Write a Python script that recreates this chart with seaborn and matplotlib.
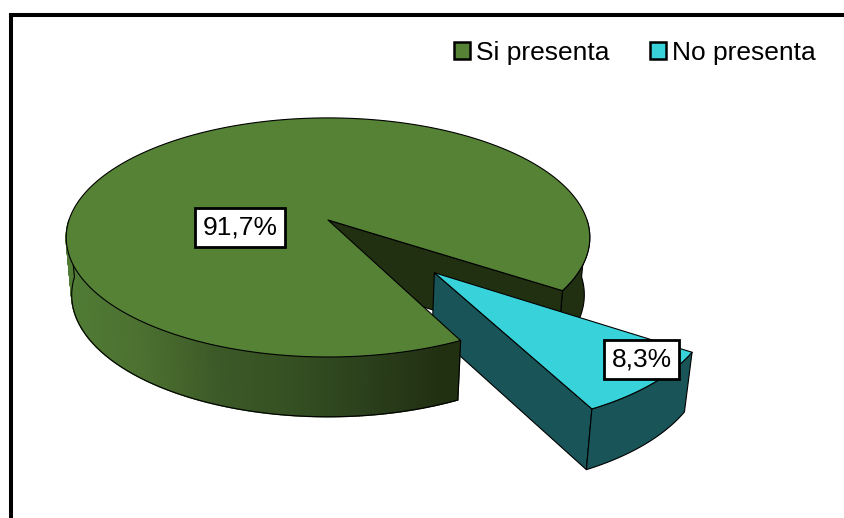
import numpy as np
import matplotlib
matplotlib.use("Agg")
import matplotlib.pyplot as plt
from matplotlib.patches import Patch
import seaborn as sns

categories = ["Si presenta", "No presenta"]
values = [91.7, 8.3]
start_deg = -33.7          # where the first slice starts, going round counter-clockwise
explode = [0.0, 0.572]
slice_radius = [1.0, 0.987]

GREEN, CYAN = "#558235", "#38D3DA"
DARK_GREEN, DARK_CYAN = "#223012", "#185458"
gradient = sns.blend_palette(["#507C35", "#4C7030", "#3C5A28", "#355022", "#2B401C", "#223012"], 200)

sns.set_theme(style="white")
plt.rcParams["font.family"] = ["Liberation Sans", "DejaVu Sans"]

W, H = 845, 518
fig = plt.figure(figsize=(W / 100, H / 100), dpi=100)
left, top = 11, 14.5
ax = fig.add_axes([left / W, 0, (W - left) / W, (H - top) / H])
ax.set_xlim(left, W)
ax.set_ylim(H, top)
ax.set_xticks([]); ax.set_yticks([])
sns.despine(ax=ax, top=False, left=False, right=True, bottom=True)
for s in ("left", "top"):
    ax.spines[s].set_linewidth(2.9)
    ax.spines[s].set_color("black")

# perspective projection of a unit disc
CX, CY, BX, AY, K, DEPTH, SHRINK = 328, 220, 259, 117, 0.146, 57, 0.021


def proj(u, v, z=0.0):
    u, v = np.asarray(u, float), np.asarray(v, float)
    w = 1 + K * v
    return CX + BX * u / w * (1 - SHRINK * z), CY - AY * v / w + DEPTH * z / w ** 0.3


def arc(a0, a1, off=(0, 0), r=1.0, n=240):
    t = np.radians(np.linspace(a0, a1, n))
    return r * np.cos(t) + off[0], r * np.sin(t) + off[1]


EDGE = dict(edgecolor="black", linewidth=0.8, joinstyle="round")


def poly(xs, ys, fc, z, **kw):
    opts = dict(EDGE); opts.update(kw)
    ax.fill(xs, ys, facecolor=fc, zorder=z, **opts)


def outer_wall(a0, a1, fc, z, off=(0, 0), r=1.0):
    u, v = arc(a0, a1, off, r)
    xt, yt = proj(u, v, 0)
    xb, yb = proj(u, v, 1)
    poly(np.r_[xt, xb[::-1]], np.r_[yt, yb[::-1]], fc, z)


def side_wall(a, fc, z, off=(0, 0), r=1.0):
    t = np.radians(a)
    u = np.array([off[0], off[0] + r * np.cos(t)])
    v = np.array([off[1], off[1] + r * np.sin(t)])
    xt, yt = proj(u, v, 0)
    xb, yb = proj(u, v, 1)
    poly(np.r_[xt, xb[::-1]], np.r_[yt, yb[::-1]], fc, z)


def top_face(a0, a1, fc, z, off=(0, 0), r=1.0):
    u, v = arc(a0, a1, off, r)
    x, y = proj(np.r_[off[0], u], np.r_[off[1], v], 0)
    poly(x, y, fc, z)


a_main_0 = start_deg
a_main_1 = start_deg + 360 * values[0] / sum(values)
a_sm_0 = a_main_1 - 360
a_sm_1 = a_sm_0 + 360 * values[1] / sum(values)
mid = np.radians((a_sm_0 + a_sm_1) / 2 + 1.0)
off = (explode[1] * np.cos(mid), explode[1] * np.sin(mid))
r_sm = slice_radius[1]

# main slice: walls that lie behind the small slice
outer_wall(a_main_0, 0, DARK_GREEN, 1)
side_wall(a_main_0, DARK_GREEN, 2)

# small exploded slice
side_wall(a_sm_0, DARK_CYAN, 3, off, r_sm)
outer_wall(a_sm_0, a_sm_1, DARK_CYAN, 3, off, r_sm)
top_face(a_sm_0, a_sm_1, CYAN, 4, off, r_sm)

# main slice: front wall with a horizontal gradient
angles = np.linspace(-180, a_sm_0, 201)
for i in range(200):
    u, v = arc(angles[i], angles[i + 1], n=4)
    xt, yt = proj(u, v, 0)
    xb, yb = proj(u, v, 1)
    frac = np.clip((xt.mean() - 66) / (440 - 66), 0, 1)
    c = gradient[int(frac * 199)]
    ax.fill(np.r_[xt, xb[::-1]], np.r_[yt, yb[::-1]], facecolor=c, edgecolor=c,
            linewidth=1.0, zorder=5)
u, v = arc(-180, a_sm_0)
x, y = proj(u, v, 1)
x0, y0 = proj(u[:1], v[:1], 0)
ax.plot(np.r_[x0, x], np.r_[y0, y], color="black", lw=0.8, zorder=6)
x, y = proj(*arc(a_sm_0, a_sm_0, n=2), 0)
x2, y2 = proj(*arc(a_sm_0, a_sm_0, n=2), 1)
ax.plot([x[0], x2[0]], [y[0], y2[0]], color="black", lw=0.8, zorder=6)

top_face(a_main_0, a_main_1, GREEN, 7)

# data labels
label_pos = [(240, 227.5), (641.5, 359.5)]
for val, (lx, ly) in zip(values, label_pos):
    ax.text(lx, ly, f"{val:.1f}%".replace(".", ","), fontsize=19, color="black",
            ha="center", va="center", zorder=10,
            bbox=dict(boxstyle="square,pad=0.3", fc="white", ec="black", lw=2))

# legend
handles = [Patch(facecolor=c, edgecolor="black", linewidth=1.8) for c in (GREEN, CYAN)]
ax.legend(handles, categories, ncol=2, frameon=False, fontsize=19,
          loc="upper left", bbox_to_anchor=(454, 41), bbox_transform=ax.transData,
          borderpad=0, borderaxespad=0, handlelength=0.6, handleheight=0.6,
          handletextpad=0.24, columnspacing=1.53, labelcolor="black")

fig.savefig("out.png", dpi=100, facecolor="white")
